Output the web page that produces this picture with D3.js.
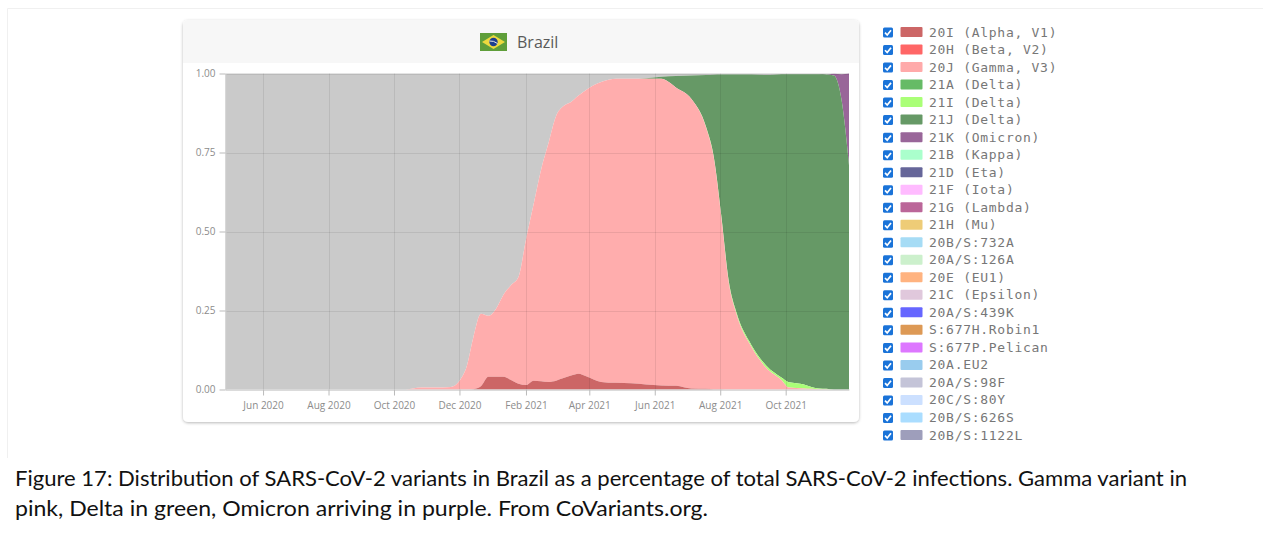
<!DOCTYPE html>
<html><head><meta charset="utf-8">
<script src="https://cdn.jsdelivr.net/npm/d3@7/dist/d3.min.js"></script>
<style>
html,body{margin:0;padding:0;background:#fff;overflow:hidden}
svg{display:block}
</style></head><body><div id="chart"></div>
<script>
const dates = ["2020-04-27","2020-05-11","2020-05-25","2020-06-08","2020-06-22","2020-07-06","2020-07-20","2020-08-03","2020-08-17","2020-08-31","2020-09-14","2020-09-28","2020-10-12","2020-10-26","2020-11-09","2020-11-23",
"2020-12-07","2020-12-14","2020-12-21","2020-12-28","2021-01-04","2021-01-11","2021-01-18","2021-01-25","2021-02-01","2021-02-08","2021-02-15","2021-02-22","2021-03-01","2021-03-08","2021-03-15","2021-03-22","2021-03-29",
"2021-04-12","2021-04-26","2021-05-10","2021-05-24","2021-06-07","2021-06-21","2021-07-05",
"2021-07-19","2021-07-26","2021-08-02","2021-08-09","2021-08-16","2021-08-30","2021-09-13","2021-09-27","2021-10-04","2021-10-11","2021-10-18","2021-10-25","2021-11-01","2021-11-08","2021-11-15","2021-11-22","2021-11-29"];
const alpha20I = [0,0,0,0,0,0,0,0,0,0,0,0,0,0,0,0,
0,.001,.01,.04,.04,.04,.03,.018,.014,.028,.026,.024,.028,.036,.044,.05,.042,
.024,.021,.02,.016,.013,.012,.003,
.002,.001,.001,0,0,0,0,0,0,0,0,0,0,0,0,0,0];
const gamma20J = [0,0,0,0,0,0,0,0,0,0,0,0,0,.006,.006,.008,
.065,.164,.23,.193,.215,.26,.30,.338,.461,.557,.669,.756,.837,.861,.866,.88,.906,
.949,.962,.963,.967,.97,.943,.917,
.825,.732,.545,.337,.24,.135,.068,.03,.006,.005,.003,.002,.001,.001,0,0,0];
const delta21I = [0,0,0,0,0,0,0,0,0,0,0,0,0,0,0,0,
0,0,0,0,0,0,0,0,0,0,0,0,0,0,0,0,0,
0,0,0,0,0,0,0,
.002,.003,.004,.005,.005,.006,.007,.008,.017,.015,.013,.006,.002,.001,0,0,0];
const delta21J = [0,0,0,0,0,0,0,0,0,0,0,0,0,0,0,0,
0,0,0,0,0,0,0,0,0,0,0,0,0,0,0,0,0,
0,0,0,.002,.007,.037,.074,
.166,.26,.447,.655,.752,.856,.92,.96,.975,.978,.982,.99,.995,.995,.994,.918,.71];
const omicron21K = [0,0,0,0,0,0,0,0,0,0,0,0,0,0,0,0,
0,0,0,0,0,0,0,0,0,0,0,0,0,0,0,0,0,
0,0,0,0,0,0,0,
0,0,0,0,0,0,0,0,0,0,0,0,0,0,.005,.08,.29];
const others = [1,1,1,1,1,1,1,1,1,1,1,1,1,.994,.994,.992,
.935,.835,.76,.767,.745,.70,.67,.644,.525,.415,.305,.22,.135,.103,.09,.07,.052,
.027,.017,.017,.015,.01,.008,.006,
.005,.004,.003,.003,.003,.003,.005,.002,.002,.002,.002,.002,.002,.003,.001,.002,0];

const legendNames = ["20I (Alpha, V1)","20H (Beta, V2)","20J (Gamma, V3)","21A (Delta)","21I (Delta)","21J (Delta)","21K (Omicron)","21B (Kappa)","21D (Eta)","21F (Iota)","21G (Lambda)","21H (Mu)","20B/S:732A","20A/S:126A","20E (EU1)","21C (Epsilon)","20A/S:439K","S:677H.Robin1","S:677P.Pelican","20A.EU2","20A/S:98F","20C/S:80Y","20B/S:626S","20B/S:1122L"];
const legendColors = ["#cc6666","#ff6666","#ffaaaa","#66bb66","#aaff77","#669966","#996699","#aaffcc","#666699","#ffbbff","#bb6699","#eecc77","#a6dcf5","#ccf0cc","#ffb380","#e0c8dc","#6666ff","#dd9955","#dd77ff","#99ccee","#c4c4d8","#cce0ff","#aaddff","#9e9ebb"];
const yTicks = [0,.25,.5,.75,1];
const xTickDates = ["2020-06-01","2020-08-01","2020-10-01","2020-12-01","2021-02-01","2021-04-01","2021-06-01","2021-08-01","2021-10-01"];
const title = "Brazil";
const caption = ["Figure 17: Distribution of SARS-CoV-2 variants in Brazil as a percentage of total SARS-CoV-2 infections. Gamma variant in","pink, Delta in green, Omicron arriving in purple. From CoVariants.org."];
const captionWidths = [1172,693];

const parse = d3.utcParse("%Y-%m-%d");
const W=1263,H=538;
const svg=d3.select("#chart").append("svg").attr("width",W).attr("height",H);
const defs=svg.append("defs");
const f=defs.append("filter").attr("id","sh").attr("x","-5%").attr("y","-5%").attr("width","110%").attr("height","110%");
f.append("feDropShadow").attr("dx",0).attr("dy",1).attr("stdDeviation",1.6).attr("flood-color","#000").attr("flood-opacity",.28);

// page frame
svg.append("path").attr("d","M1263,8.5H7.5V458").attr("fill","none").attr("stroke","#f0f0f0");

// card
svg.append("rect").attr("x",183).attr("y",20).attr("width",676).attr("height",402).attr("rx",5).attr("fill","#fff").attr("filter","url(#sh)");
svg.append("path").attr("d","M183,63V25a5,5 0 0 1 5,-5H854a5,5 0 0 1 5,5V63Z").attr("fill","#f7f7f7");

// flag
const fl=svg.append("g").attr("transform","translate(480,33)");
fl.append("rect").attr("width",27).attr("height",18).attr("fill","#5f9e3a");
fl.append("path").attr("d","M13.5,2L25,9L13.5,16L2,9Z").attr("fill","#ecd93f");
fl.append("circle").attr("cx",13.5).attr("cy",9).attr("r",4.2).attr("fill","#1d3f8f");
fl.append("path").attr("d","M9.5,8Q13.5,7.5 17.5,10.5").attr("fill","none").attr("stroke","#e8e8e8").attr("stroke-width",1);
svg.append("text").attr("x",517).attr("y",47.5).attr("font-family","Open Sans").attr("font-size",16).attr("fill","#5a5a5a").text(title);

// plot
const x=d3.scaleUtc().domain([parse("2020-04-27"),parse("2021-11-29")]).range([225.5,849]);
const y=d3.scaleLinear().domain([0,1]).range([389.5,73.5]);
const keys=["a","g","i","j","k","o"];
const cols={a:"#cc6666",g:"#ffadad",i:"#aaff77",j:"#669966",k:"#996699",o:"#cacaca"};
const src={a:alpha20I,g:gamma20J,i:delta21I,j:delta21J,k:omicron21K,o:others};
const rows=dates.map((d,i)=>{const r={date:parse(d)};keys.forEach(k=>r[k]=src[k][i]);return r;});
const stack=d3.stack().keys(keys)(rows);
const area=d3.area().x(d=>x(d.data.date)).y0(d=>y(d[0])).y1(d=>y(Math.min(1,d[1]))).curve(d3.curveMonotoneX);
svg.append("g").selectAll("path").data(stack.slice().reverse()).join("path").attr("d",area).attr("fill",d=>cols[d.key]);

// grid
const grid=svg.append("g").attr("stroke","#000").attr("stroke-opacity",.08).attr("stroke-width",1);
grid.selectAll("line.h").data(yTicks).join("line").attr("class","h").attr("x1",225.5).attr("x2",849).attr("y1",d=>Math.round(y(d))+.5).attr("y2",d=>Math.round(y(d))+.5);
grid.selectAll("line.v").data(xTickDates).join("line").attr("class","v").attr("y1",73.5).attr("y2",389.5).attr("x1",d=>Math.round(x(parse(d)))+.5).attr("x2",d=>Math.round(x(parse(d)))+.5);

// axes
const xa=svg.append("g").attr("transform","translate(0,389.5)").call(d3.axisBottom(x).tickValues(xTickDates.map(parse)).tickSize(6).tickSizeOuter(0).tickFormat(d3.utcFormat("%b %Y")));
const ya=svg.append("g").attr("transform","translate(225.5,0)").call(d3.axisLeft(y).tickValues(yTicks).tickSize(6).tickSizeOuter(0).tickFormat(d3.format(".2f")));
[xa,ya].forEach(a=>{a.selectAll("path").attr("stroke","#ccc");a.selectAll("line").attr("stroke","#bbb");a.selectAll("text").attr("fill","#8c8c8c").attr("font-family","Open Sans").attr("font-size",10);});
xa.selectAll("text").attr("dy","1.05em");
ya.selectAll("text").attr("dx","-1px");

// legend
const rowY=d3.scaleLinear().domain([0,23]).range([32.5,435.5]);
const lg=svg.append("g").selectAll("g").data(legendNames).join("g").attr("transform",(d,i)=>`translate(0,${rowY(i)})`);
lg.append("rect").attr("x",883).attr("y",-5).attr("width",10).attr("height",10).attr("rx",1.5).attr("fill","#1a73d8");
lg.append("path").attr("d","M885,0.2L887.2,2.5L891,-2.2").attr("fill","none").attr("stroke","#fff").attr("stroke-width",1.7);
lg.append("rect").attr("x",900.5).attr("y",-5.5).attr("width",22).attr("height",10).attr("rx",1).attr("fill",(d,i)=>legendColors[i]);
lg.append("text").attr("x",929).attr("y",4).attr("font-family","DejaVu Sans Mono").attr("font-size",13).attr("letter-spacing",".72px").attr("fill","#777").text(d=>d);

// caption
svg.append("g").selectAll("text").data(caption).join("text").attr("x",15).attr("y",(d,i)=>486+i*30).attr("font-family","Lato").attr("font-size",21).attr("fill","#111").attr("textLength",(d,i)=>captionWidths[i]).attr("lengthAdjust","spacingAndGlyphs").text(d=>d);
</script></body></html>
